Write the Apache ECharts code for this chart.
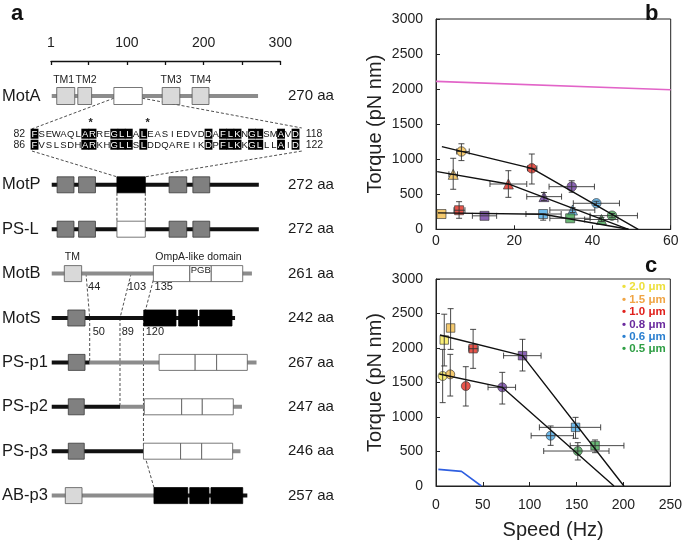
<!DOCTYPE html>
<html><head><meta charset="utf-8">
<script src="https://cdn.jsdelivr.net/npm/echarts@6/dist/echarts.min.js"></script>
<style>html,body{margin:0;padding:0;background:#fff}#c{width:685px;height:542px}</style>
</head><body><div id="c"></div><script>
// ---------------- data ----------------
const rulerTicks = [1, 50, 100, 150, 200, 250, 300];
const rulerLabels = [1, 100, 200, 300];

const proteinNames = ['MotA', 'MotP', 'PS-L', 'MotB', 'MotS', 'PS-p1', 'PS-p2', 'PS-p3', 'AB-p3'];
const proteinRows = [0, 2, 3, 4, 5, 6, 7, 8, 9];
const proteinLengths = ['270 aa', '272 aa', '272 aa', '261 aa', '242 aa', '267 aa', '247 aa', '246 aa', '257 aa'];

// [row, start residue, end residue, 1 = black / 0 = grey]
const backbone = [
  [0, 2, 271, 0],
  [2, 2, 272, 1],
  [3, 2, 272, 1],
  [4, 2, 263, 0],
  [5, 2, 241, 1],
  [6, 2, 51.5, 1], [6, 51.5, 269, 0],
  [7, 2, 91, 1], [7, 91, 250, 0],
  [8, 2, 121.6, 1], [8, 121.6, 248, 0],
  [9, 2, 135, 0], [9, 135, 257, 1]
];
// [row, start, end, fill: 0 light grey, 1 dark grey, 2 white, 3 black]
const domains = [
  [0, 8.5, 32, 0], [0, 36, 54, 0], [0, 83, 120, 2], [0, 146, 169, 0], [0, 185, 207, 0],
  [2, 9, 31, 1], [2, 37, 59, 1], [2, 87, 124, 3], [2, 155, 178, 1], [2, 186, 208, 1],
  [3, 9, 31, 1], [3, 37, 59, 1], [3, 87, 124, 2], [3, 155, 178, 1], [3, 186, 208, 1],
  [4, 18.4, 41, 0], [4, 134.5, 182, 2], [4, 182, 210, 2], [4, 210, 251, 2],
  [5, 23, 45.4, 1], [5, 122, 164, 3], [5, 167.5, 192, 3], [5, 195, 237, 3],
  [6, 23.6, 45.4, 1], [6, 142, 189, 2], [6, 189, 217, 2], [6, 217, 257, 2],
  [7, 23.6, 44.4, 1], [7, 122.7, 171.4, 2], [7, 171.4, 198.3, 2], [7, 198.3, 238.7, 2],
  [8, 23.6, 44.4, 1], [8, 121.6, 170, 2], [8, 170, 197.5, 2], [8, 197.5, 237.9, 2],
  [9, 19.7, 41.5, 0], [9, 135.3, 179.3, 3], [9, 182, 207, 3], [9, 209.6, 251, 3]
];
// [residue, row, text]
const domainLabels = [
  [17.6, -0.36, 'TM1'], [46.7, -0.36, 'TM2'], [157.5, -0.36, 'TM3'], [196, -0.36, 'TM4'],
  [29, 3.63, 'TM'], [193.3, 3.63, 'OmpA-like domain']
];
const pgbLabel = [[196.2, 3.92, 'PGB']];
const junctionLabels = [
  [49.4, 4.31, '44'], [101, 4.31, '103'], [136, 4.31, '135'],
  [55.4, 5.31, '50'], [93.2, 5.31, '89'], [124.5, 5.31, '120']
];
// dashed connectors [res1, row1, res2, row2]
const connectors = [
  [83, 0.05, -23.7, 0.74], [120, 0.05, 328, 0.72],
  [-23.7, 1.24, 87, 1.82], [328, 1.24, 124, 1.82],
  [87, 2.18, 87, 2.82], [124, 2.18, 124, 2.82],
  [46.7, 4, 51.5, 5], [105.5, 4, 91, 5], [134.4, 4.15, 121.6, 5],
  [51.5, 5, 51.5, 6], [91, 5, 91, 7], [121.6, 5, 121.6, 8], [121.6, 8, 135.3, 8.82]
];

const seqRows = ['FSEWAQLARREGLLALEASIEDVDDAFLKNGLSMAVD', 'FVSLSDHARKHGLLSLDDQAREIKDPFLKKGLLLAID'];
const seqHighlight = [0, 7, 8, 11, 12, 13, 15, 24, 26, 27, 28, 30, 31, 34, 36];
const seqStart = ['82', '86'];
const seqEnd = ['118', '122'];
const starPos = [7.75, 15.6];

const sizeLabels = ['2.0 μm', '1.5 μm', '1.0 μm', '0.8 μm', '0.6 μm', '0.5 μm'];
const markerColors = ['#f7ea55', '#f1bb4a', '#e4291e', '#6e3ca2', '#4aa9e6', '#44a553'];
const legendColors = ['#ede03c', '#f0a444', '#e0201c', '#6a2a9e', '#2a7fd0', '#2e9e44'];

// panel b: [x, y, xLow, xHigh, yLow, yHigh, sizeIndex]
const bCircles = [
  [6.5, 1110, 5.3, 8.5, 980, 1220, 1],
  [24.5, 870, 23.4, 25.8, 646, 1074, 2],
  [34.7, 608, 28.9, 40.5, 528, 693, 3],
  [41.0, 371, 35.1, 46.9, 340, 400, 4],
  [45.0, 195, 39.4, 51.5, 165, 225, 5]
];
const bTriangles = [
  [4.4, 784, 3.3, 5.5, 571, 1013, 1],
  [18.5, 646, 13.8, 23.2, 456, 836, 2],
  [27.6, 466, 23.2, 32.1, 410, 525, 3],
  [34.9, 275, 29.1, 40.6, 240, 310, 4],
  [42.3, 140, 38, 46.5, 110, 170, 5]
];
const bSquares = [
  [1.4, 218, 1.4, 1.4, 218, 218, 1],
  [5.9, 272, 4.6, 7.4, 157, 394, 2],
  [12.4, 192, 9.3, 15.5, 192, 192, 3],
  [27.4, 218, 23, 32, 130, 218, 4],
  [34.3, 157, 29.1, 39.4, 157, 157, 5]
];
const bFitCircles = [[1.5, 1180], [24.5, 870], [51.7, 0]];
const bFitTriangles = [[0.3, 823], [18.5, 647], [49.2, 0]];
const bFitSquares = [[0.5, 235], [27.4, 215], [49.2, 0]];
const bPink = [[0, 2110], [60, 1990]];

// panel c
const cSquares = [
  [8.8, 2116, 8.8, 8.8, 1740, 2490, 0],
  [15.6, 2290, 15.6, 15.6, 1980, 2570, 1],
  [39.6, 1990, 35, 45, 1705, 2270, 2],
  [92.3, 1889, 72.1, 112.1, 1667, 2126, 3],
  [148.9, 850, 110.3, 175.7, 691, 995, 4],
  [169.7, 585, 143.2, 200.5, 483, 667, 5]
];
const cCircles = [
  [7.1, 1594, 7.1, 7.1, 1208, 1980, 0],
  [15.2, 1618, 15.2, 15.2, 1304, 1908, 1],
  [31.8, 1449, 31.8, 31.8, 1159, 1729, 2],
  [70.7, 1430, 55.5, 84.9, 1188, 1647, 3],
  [122.3, 729, 101.5, 146.7, 589, 870, 4],
  [151.3, 507, 114.9, 184.6, 377, 628, 5]
];
const cFitSquares = [[4.2, 2188], [92.3, 1889], [200.5, 0]];
const cFitCircles = [[3.5, 1623], [70.7, 1430], [189.9, 0]];
const cBlue = [[2.5, 241], [27.2, 212], [48.4, 0]];

// ---------------- chart ----------------
const FONT = "'Liberation Sans', Arial, sans-serif";
const fillColors = ['#d9d9d9', '#808080', '#ffffff', '#000000'];
const strokeColors = ['#555', '#3a3a3a', '#555', '#000'];
const chart = echarts.init(document.getElementById('c'));

function textSeries(arr, xi, yi, font, fill, align, z) {
  return {
    type: 'custom', xAxisIndex: xi, yAxisIndex: yi, silent: true, z: z || 5,
    data: arr.map(d => [d[0], d[1]]),
    renderItem: (p, api) => {
      const d = arr[p.dataIndex];
      const c = api.coord([d[0], d[1]]);
      return { type: 'text', x: c[0], y: c[1],
        style: { text: d[2], font: font, fill: fill, align: align, verticalAlign: 'middle' } };
    }
  };
}

const series = [];
series.push({
  type: 'custom', xAxisIndex: 1, yAxisIndex: 1, silent: true, z: 1,
  data: connectors.map(d => [d[0], d[1]]),
  renderItem: (p, api) => {
    const d = connectors[p.dataIndex];
    const a = api.coord([d[0], d[1]]), b = api.coord([d[2], d[3]]);
    return { type: 'line', shape: { x1: a[0], y1: a[1], x2: b[0], y2: b[1] },
      style: { stroke: '#222', lineWidth: 0.8, lineDash: [3, 2] } };
  }
});
series.push({
  type: 'custom', xAxisIndex: 1, yAxisIndex: 1, silent: true, z: 2,
  data: backbone.map(d => [d[1], d[0]]),
  renderItem: (p, api) => {
    const d = backbone[p.dataIndex];
    const s = api.coord([d[1], d[0]]), e = api.coord([d[2], d[0]]);
    return { type: 'rect', shape: { x: s[0], y: s[1] - 2, width: e[0] - s[0], height: 4 },
      style: { fill: d[3] ? '#111' : '#8c8c8c' } };
  }
});
series.push({
  type: 'custom', xAxisIndex: 1, yAxisIndex: 1, silent: true, z: 3,
  data: domains.map(d => [d[1], d[0]]),
  renderItem: (p, api) => {
    const d = domains[p.dataIndex];
    const s = api.coord([d[1], d[0]]), e = api.coord([d[2], d[0]]);
    const h = d[0] === 0 ? 17 : 16;
    return { type: 'rect', shape: { x: s[0], y: s[1] - h / 2, width: e[0] - s[0], height: h },
      style: { fill: fillColors[d[3]], stroke: strokeColors[d[3]], lineWidth: 0.8 } };
  }
});
series.push(textSeries(domainLabels, 1, 1, '10.5px ' + FONT, '#222', 'center'));
series.push(textSeries(pgbLabel, 1, 1, '9.5px ' + FONT, '#222', 'center'));
series.push(textSeries(junctionLabels, 1, 1, '11px ' + FONT, '#222', 'left'));
series.push(textSeries(proteinRows.map((r, i) => [-62.8, r, proteinNames[i]]), 1, 1, '16.5px ' + FONT, '#1a1a1a', 'left'));
series.push(textSeries(proteinRows.map((r, i) => [310, r, proteinLengths[i]]), 1, 1, '15px ' + FONT, '#1a1a1a', 'left'));

// alignment
const seqData = [];
seqRows.forEach((s, r) => { for (let i = 0; i < s.length; i++) seqData.push([i, r + 1, s[i]]); });
series.push({
  type: 'custom', xAxisIndex: 2, yAxisIndex: 2, silent: true, z: 4,
  data: seqData.map(d => [d[0], d[1]]),
  renderItem: (p, api) => {
    const d = seqData[p.dataIndex];
    const c = api.coord([d[0], d[1]]);
    const w = api.size([1, 0])[0];
    const hl = seqHighlight.indexOf(d[0]) >= 0;
    const children = [];
    if (hl) children.push({ type: 'rect', shape: { x: c[0] - w / 2 - 0.3, y: c[1] - 5, width: w + 0.6, height: 10 }, style: { fill: '#000' } });
    children.push({ type: 'text', x: c[0], y: c[1] + 0.5,
      style: { text: d[2], font: '9.5px ' + FONT, fill: hl ? '#fff' : '#111', align: 'center', verticalAlign: 'middle' } });
    return { type: 'group', children: children };
  }
});
series.push(textSeries(seqStart.map((t, i) => [-1.3, i + 1, t]), 2, 2, '10.5px ' + FONT, '#222', 'right'));
series.push(textSeries(seqEnd.map((t, i) => [37.4, i + 1, t]), 2, 2, '10.5px ' + FONT, '#222', 'left'));
series.push(textSeries(starPos.map(x => [x, 0.05, '*']), 2, 2, 'bold 11px ' + FONT, '#222', 'center'));

function errSeries(arr, xi, yi) {
  return {
    type: 'custom', xAxisIndex: xi, yAxisIndex: yi, silent: true, z: 6,
    data: arr.map(d => [d[0], d[1]]),
    renderItem: (p, api) => {
      const d = arr[p.dataIndex];
      const st = { stroke: '#333', lineWidth: 0.9 };
      const ch = [], cap = 3;
      if (d[3] > d[2]) {
        const a = api.coord([d[2], d[1]]), b = api.coord([d[3], d[1]]);
        ch.push({ type: 'line', shape: { x1: a[0], y1: a[1], x2: b[0], y2: b[1] }, style: st });
        ch.push({ type: 'line', shape: { x1: a[0], y1: a[1] - cap, x2: a[0], y2: a[1] + cap }, style: st });
        ch.push({ type: 'line', shape: { x1: b[0], y1: b[1] - cap, x2: b[0], y2: b[1] + cap }, style: st });
      }
      if (d[5] > d[4]) {
        const a = api.coord([d[0], d[4]]), b = api.coord([d[0], d[5]]);
        ch.push({ type: 'line', shape: { x1: a[0], y1: a[1], x2: b[0], y2: b[1] }, style: st });
        ch.push({ type: 'line', shape: { x1: a[0] - cap, y1: a[1], x2: a[0] + cap, y2: a[1] }, style: st });
        ch.push({ type: 'line', shape: { x1: b[0] - cap, y1: b[1], x2: b[0] + cap, y2: b[1] }, style: st });
      }
      return { type: 'group', children: ch };
    }
  };
}
function markSeries(arr, xi, yi, symbol, size) {
  return {
    type: 'scatter', xAxisIndex: xi, yAxisIndex: yi, symbol: symbol, symbolSize: size, z: 5, silent: true,
    data: arr.map(d => ({ value: [d[0], d[1]], itemStyle: { color: markerColors[d[6]], borderColor: '#333', borderWidth: 0.8 } }))
  };
}
function lineSeries(arr, xi, yi, color, width) {
  return { type: 'line', xAxisIndex: xi, yAxisIndex: yi, data: arr, symbol: 'none', silent: true, z: 7,
    lineStyle: { color: color, width: width } };
}
[bCircles, bTriangles, bSquares].forEach(a => series.push(errSeries(a, 3, 3)));
series.push(markSeries(bCircles, 3, 3, 'circle', 9.5));
series.push(markSeries(bTriangles, 3, 3, 'triangle', 10));
series.push(markSeries(bSquares, 3, 3, 'rect', 9));
series.push(lineSeries(bFitCircles, 3, 3, '#111', 1.4));
series.push(lineSeries(bFitTriangles, 3, 3, '#111', 1.4));
series.push(lineSeries(bFitSquares, 3, 3, '#111', 1.4));
series.push(lineSeries(bPink, 3, 3, '#e264c8', 1.6));

[cSquares, cCircles].forEach(a => series.push(errSeries(a, 4, 4)));
series.push(markSeries(cSquares, 4, 4, 'rect', 8.5));
series.push(markSeries(cCircles, 4, 4, 'circle', 9));
series.push(lineSeries(cFitSquares, 4, 4, '#111', 1.4));
series.push(lineSeries(cFitCircles, 4, 4, '#111', 1.4));
series.push(lineSeries(cBlue, 4, 4, '#2f5fe0', 1.6));

const plainNum = v => String(v);
function plotX(gi, min, max, interval, margin, name) {
  return { gridIndex: gi, type: 'value', min: min, max: max, interval: interval,
    axisLine: { show: true, onZero: false, lineStyle: { color: '#222', width: 1 } },
    axisTick: { show: true, inside: true, length: 4, lineStyle: { color: '#222' } },
    axisLabel: { fontSize: 14, color: '#222', margin: margin, fontFamily: FONT, formatter: plainNum },
    splitLine: { show: false },
    name: name || '', nameLocation: 'middle', nameGap: 34,
    nameTextStyle: { fontSize: 20, color: '#222', fontFamily: FONT } };
}
function plotY(gi) {
  return { gridIndex: gi, type: 'value', min: 0, max: 3000, interval: 500,
    axisLine: { show: true, onZero: false, lineStyle: { color: '#222', width: 1 } },
    axisTick: { show: true, inside: true, length: 4, lineStyle: { color: '#222' } },
    axisLabel: { fontSize: 14, color: '#222', margin: 13, fontFamily: FONT, formatter: plainNum },
    splitLine: { show: false },
    name: 'Torque (pN nm)', nameLocation: 'middle', nameGap: 51,
    nameTextStyle: { fontSize: 20, color: '#222', fontFamily: FONT } };
}

const legendGraphics = sizeLabels.map((t, i) => ({
  type: 'text', left: 622, top: 281 + i * 12.45,
  style: { text: '• ' + t, font: 'bold 11.5px ' + FONT, fill: legendColors[i] }
}));

chart.setOption({
  animation: false,
  backgroundColor: '#fff',
  grid: [
    { left: 51, width: 229.3, top: 60, height: 1 },
    { left: 50.2, width: 230.1, top: 51.6, height: 488.4 },
    { left: 30.9, width: 268.25, top: 117.2, height: 33 },
    { left: 436, width: 234.7, top: 19, height: 210.3, show: true, borderColor: '#222', borderWidth: 1 },
    { left: 436, width: 235.7, top: 279, height: 207, show: true, borderColor: '#222', borderWidth: 1 }
  ],
  xAxis: [
    { gridIndex: 0, type: 'value', position: 'top', min: 1, max: 300,
      axisLine: { show: true, lineStyle: { color: '#111', width: 1.3 } },
      axisTick: { show: true, inside: true, length: 4, customValues: rulerTicks, lineStyle: { color: '#111', width: 1.3 } },
      axisLabel: { show: true, customValues: rulerLabels, fontSize: 14, color: '#222', margin: 10, fontFamily: FONT },
      splitLine: { show: false } },
    { gridIndex: 1, type: 'value', min: 0, max: 300, show: false },
    { gridIndex: 2, type: 'value', min: -0.5, max: 36.5, show: false },
    plotX(3, 0, 60, 20, 5),
    plotX(4, 0, 250, 50, 12, 'Speed (Hz)')
  ],
  yAxis: [
    { gridIndex: 0, type: 'value', show: false },
    { gridIndex: 1, type: 'value', min: -1, max: 10, inverse: true, show: false },
    { gridIndex: 2, type: 'value', min: -0.5, max: 2.5, inverse: true, show: false },
    plotY(3),
    plotY(4)
  ],
  graphic: [
    { type: 'text', left: 11, top: 3, style: { text: 'a', font: 'bold 22px ' + FONT, fill: '#111' } },
    { type: 'text', left: 645, top: 3, style: { text: 'b', font: 'bold 22px ' + FONT, fill: '#111' } },
    { type: 'text', left: 645, top: 255, style: { text: 'c', font: 'bold 22px ' + FONT, fill: '#111' } }
  ].concat(legendGraphics),
  series: series
});
</script></body></html>
